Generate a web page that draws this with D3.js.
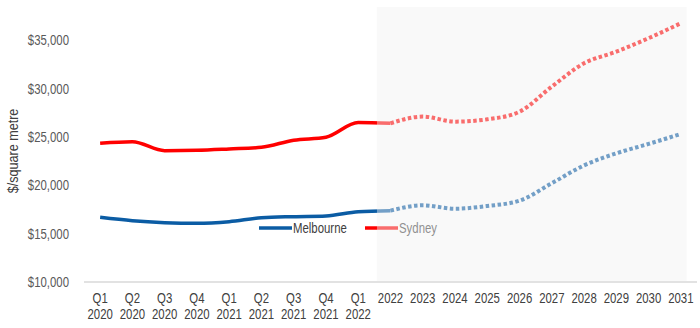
<!DOCTYPE html>
<html>
<head>
<meta charset="utf-8">
<script src="https://cdn.jsdelivr.net/npm/d3@7"></script>
<style>
  body { margin: 0; background: #fff; }
  text { font-family: "Liberation Sans", Arial, sans-serif; }
</style>
</head>
<body>
<script>
// categories: quarters then forecast years
const quarters = ["Q1","Q2","Q3","Q4","Q1","Q2","Q3","Q4","Q1"];
const quarterYears = ["2020","2020","2020","2020","2021","2021","2021","2021","2022"];
const forecastYears = ["2022","2023","2024","2025","2026","2027","2028","2029","2030","2031"];

// $/sqm values, one per category
const melbourne = [16680,16330,16130,16060,16230,16640,16750,16820,17260,
                   17370,17920,17570,17850,18400,20200,22040,23290,24260,25290];
const sydney = [24330,24490,23560,23600,23740,23910,24640,24950,26460,
                26390,27080,26560,26800,27590,30180,32590,33790,35180,36730];

const yTicks = [10000,15000,20000,25000,30000,35000];

const W = 700, H = 328;
const SQ = 0.76; // narrow look of the original font
const FS = 15;
const svg = d3.select("body").append("svg")
  .attr("width", W).attr("height", H);

const cats = quarters.map((q,i) => q + " " + quarterYears[i]).concat(forecastYears);

const x = d3.scaleBand().domain(cats).range([84, 697]);
const step = x.step();
const cx = d => x(d) + x.bandwidth() / 2;

const y = d3.scaleLinear().domain([10000, 38400]).range([282, 7]);

// puts narrow text at px,py
function label(parent, px, py, str, anchor, color) {
  return parent.append("text")
    .attr("transform", "translate(" + px + "," + py + ") scale(" + SQ + ",1)")
    .attr("text-anchor", anchor)
    .attr("dy", "0.35em")
    .attr("font-size", FS)
    .attr("fill", color)
    .text(str);
}

// y labels
const fmt = d3.format("$,");
yTicks.forEach(t => label(svg, 69, y(t), fmt(t), "end", "#595959"));

svg.append("text")
  .attr("transform", "translate(13," + 151 + ") rotate(-90) scale(0.84,1)")
  .attr("text-anchor", "middle")
  .attr("dy", "0.35em")
  .attr("font-size", FS)
  .attr("fill", "#404040")
  .text("$/square metre");

// x axis line
svg.append("line")
  .attr("x1", x.range()[0]).attr("x2", x.range()[1])
  .attr("y1", y(10000)).attr("y2", y(10000))
  .attr("stroke", "#d9d9d9").attr("stroke-width", 1.5);

// x labels
cats.forEach((d, i) => {
  if (i < quarters.length) {
    label(svg, cx(d), 298, quarters[i], "middle", "#404040");
    label(svg, cx(d), 314, quarterYears[i], "middle", "#404040");
  } else {
    label(svg, cx(d), 298, d, "middle", "#404040");
  }
});

const splitAt = quarters.length; // index of first forecast point (2022)

const line = d3.line()
  .x(d => cx(d.c))
  .y(d => y(d.v))
  .curve(d3.curveMonotoneX);

const series = [
  {name: "Melbourne", vals: melbourne, color: "#0b5ca4"},
  {name: "Sydney", vals: sydney, color: "#ff0000"}
];

series.forEach(s => {
  const pts = s.vals.map((v,i) => ({c: cats[i], v: v}));
  svg.append("path")
    .datum(pts.slice(0, splitAt + 1))
    .attr("d", line)
    .attr("fill", "none")
    .attr("stroke", s.color)
    .attr("stroke-width", 3.5)
    .attr("stroke-linejoin", "round");
  svg.append("path")
    .datum(pts.slice(splitAt))
    .attr("d", line)
    .attr("fill", "none")
    .attr("stroke", s.color)
    .attr("stroke-width", 4)
    .attr("stroke-dasharray", "3.5,2.5");
});

// legend
const legX = [259, 365];
series.forEach((s, i) => {
  const g = svg.append("g").attr("transform", "translate(" + legX[i] + ",228)");
  g.append("line").attr("x1", 0).attr("x2", 33).attr("y1", 0).attr("y2", 0)
    .attr("stroke", s.color).attr("stroke-width", 3.5);
  label(g, 34, 0, s.name, "start", "#404040");
});

// forecast shading drawn over the lines
const bandX0 = cx(cats[splitAt]) - step * 0.42;
const bandX1 = cx(cats[cats.length - 1]) + step * 0.18;
svg.append("rect")
  .attr("x", bandX0)
  .attr("y", y.range()[1])
  .attr("width", bandX1 - bandX0)
  .attr("height", y(10000) - 1 - y.range()[1])
  .attr("fill", "#f2f2f2")
  .attr("opacity", 0.45);
</script>
</body>
</html>
